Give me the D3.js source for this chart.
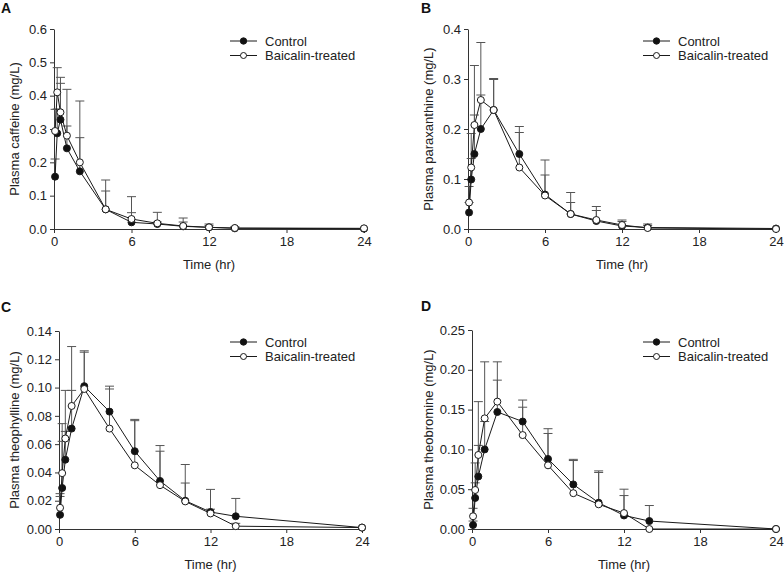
<!DOCTYPE html>
<html><head><meta charset="utf-8">
<script src="https://cdn.jsdelivr.net/npm/d3@7"></script>
<style>
html,body{margin:0;padding:0;background:#fff;}
svg text{font-family:"Liberation Sans",Arial,Helvetica,sans-serif;}
</style></head>
<body><svg id="chart" width="784" height="573"></svg>
<script>
// ---- data ----
const times = [0.083, 0.25, 0.5, 1, 2, 4, 6, 8, 10, 12, 14, 24];
const xTicks = [0, 6, 12, 18, 24];
const seriesNames = ["Control", "Baicalin-treated"];

const caffeineControl   = [0.157, 0.287, 0.328, 0.242, 0.173, 0.059, 0.020, 0.015, 0.008, 0.005, 0.002, 0.001];
const caffeineControlSD = [0.053, 0.073, 0.109, 0.067, 0.101, 0.055, 0.029, 0.006, 0.013, 0.005, 0.004, 0.000];
const caffeineBaicalin  = [0.294, 0.410, 0.350, 0.280, 0.200, 0.059, 0.030, 0.017, 0.009, 0.005, 0.003, 0.002];
const caffeineBaicalinSD= [0.065, 0.074, 0.105, 0.139, 0.184, 0.088, 0.067, 0.033, 0.024, 0.010, 0.003, 0.000];

const paraxControl   = [0.033, 0.099, 0.150, 0.200, 0.238, 0.150, 0.069, 0.030, 0.016, 0.006, 0.003, 0.001];
const paraxControlSD = [0.020, 0.042, 0.078, 0.068, 0.063, 0.055, 0.039, 0.023, 0.021, 0.009, 0.004, 0.000];
const paraxBaicalin  = [0.053, 0.123, 0.208, 0.258, 0.238, 0.123, 0.067, 0.030, 0.018, 0.008, 0.002, 0.000];
const paraxBaicalinSD= [0.032, 0.068, 0.119, 0.115, 0.061, 0.070, 0.071, 0.043, 0.027, 0.010, 0.008, 0.000];

const theophControl   = [0.010, 0.029, 0.049, 0.071, 0.101, 0.083, 0.055, 0.034, 0.020, 0.012, 0.009, 0.001];
const theophControlSD = [0.015, 0.033, 0.020, 0.027, 0.025, 0.018, 0.0225, 0.025, 0.0256, 0.016, 0.0126, 0.000];
const theophBaicalin  = [0.015, 0.0395, 0.064, 0.087, 0.099, 0.071, 0.045, 0.031, 0.0195, 0.011, 0.002, 0.001];
const theophBaicalinSD= [0.008, 0.035, 0.034, 0.042, 0.026, 0.028, 0.0316, 0.024, 0.013, 0.003, 0.002, 0.000];

const theobrControl   = [0.005, 0.039, 0.066, 0.100, 0.147, 0.135, 0.088, 0.056, 0.033, 0.017, 0.010, 0.000];
const theobrControlSD = [0.005, 0.019, 0.039, 0.035, 0.040, 0.027, 0.038, 0.0315, 0.040, 0.033, 0.0195, 0.000];
const theobrBaicalin  = [0.016, 0.049, 0.093, 0.139, 0.160, 0.118, 0.080, 0.045, 0.031, 0.020, 0.000, 0.000];
const theobrBaicalinSD= [0.010, 0.034, 0.067, 0.071, 0.050, 0.035, 0.040, 0.041, 0.040, 0.022, 0.000, 0.000];

const yTicksA = [0, 0.1, 0.2, 0.3, 0.4, 0.5, 0.6];
const yTicksB = [0, 0.1, 0.2, 0.3, 0.4];
const yTicksC = [0, 0.02, 0.04, 0.06, 0.08, 0.10, 0.12, 0.14];
const yTicksD = [0, 0.05, 0.10, 0.15, 0.20, 0.25];

// ---- layout ----
const panels = [
  {letter:"A", label:"Plasma caffeine (mg/L)", ctrl:caffeineControl, ctrlSD:caffeineControlSD, bai:caffeineBaicalin, baiSD:caffeineBaicalinSD,
   yTicks:yTicksA, fmt:".1f", left:54, right:364, top:29, bottom:229, letterX:1, letterY:13, ylabX:14, legX:230, legY:41},
  {letter:"B", label:"Plasma paraxanthine (mg/L)", ctrl:paraxControl, ctrlSD:paraxControlSD, bai:paraxBaicalin, baiSD:paraxBaicalinSD,
   yTicks:yTicksB, fmt:".1f", left:468, right:776, top:29, bottom:229, letterX:421, letterY:13, ylabX:428, legX:643, legY:41},
  {letter:"C", label:"Plasma theophylline (mg/L)", ctrl:theophControl, ctrlSD:theophControlSD, bai:theophBaicalin, baiSD:theophBaicalinSD,
   yTicks:yTicksC, fmt:".2f", left:59, right:362, top:331, bottom:529, letterX:1, letterY:312, ylabX:14, legX:230, legY:342},
  {letter:"D", label:"Plasma theobromine (mg/L)", ctrl:theobrControl, ctrlSD:theobrControlSD, bai:theobrBaicalin, baiSD:theobrBaicalinSD,
   yTicks:yTicksD, fmt:".2f", left:472, right:776, top:330, bottom:529, letterX:421, letterY:311, ylabX:428, legX:643, legY:342}
];

const svg = d3.select("#chart");
const lineCol = "#1a1a1a", errCol = "#555", txtCol = "#222";

panels.forEach(p => {
  const g = svg.append("g");
  const x = d3.scaleLinear().domain([0, 24]).range([p.left, p.right]);
  const ymax = p.yTicks[p.yTicks.length - 1];
  const y = d3.scaleLinear().domain([0, ymax]).range([p.bottom, p.top]);

  // axes
  const xa = g.append("g").attr("transform", `translate(0,${p.bottom})`)
    .call(d3.axisBottom(x).tickValues(xTicks).tickSize(4).tickSizeOuter(0).tickPadding(4));
  const ya = g.append("g").attr("transform", `translate(${p.left},0)`)
    .call(d3.axisLeft(y).tickValues(p.yTicks).tickFormat(d3.format(p.fmt)).tickSize(4).tickSizeOuter(0).tickPadding(3));
  [xa, ya].forEach(a => {
    a.selectAll("path,line").attr("stroke", "#333").attr("stroke-width", 1);
    a.selectAll("text").attr("font-size", 13).attr("fill", txtCol)
      .attr("font-family", '"Liberation Sans",Arial,sans-serif');
  });

  // axis titles
  g.append("text").attr("x", (p.left + p.right) / 2).attr("y", p.bottom + 40)
    .attr("text-anchor", "middle").attr("font-size", 13).attr("fill", txtCol).text("Time (hr)");
  g.append("text").attr("transform", `translate(${p.ylabX},${(p.top + p.bottom) / 2}) rotate(-90)`)
    .attr("text-anchor", "middle").attr("dominant-baseline", "central")
    .attr("font-size", 13).attr("fill", txtCol).text(p.label);
  g.append("text").attr("x", p.letterX).attr("y", p.letterY).attr("font-size", 14)
    .attr("font-weight", "bold").attr("fill", "#111").text(p.letter);

  const series = [
    {vals:p.ctrl, sd:p.ctrlSD, fill:"#111"},
    {vals:p.bai, sd:p.baiSD, fill:"#fff"}
  ];
  // error bars (upper only)
  series.forEach(s => {
    const eg = g.append("g").attr("stroke", errCol).attr("stroke-width", 1);
    times.forEach((t, i) => {
      if (s.sd[i] <= 0) return;
      const cx = x(t), y0 = y(s.vals[i]), y1 = y(s.vals[i] + s.sd[i]);
      eg.append("line").attr("x1", cx).attr("x2", cx).attr("y1", y0).attr("y2", y1);
      eg.append("line").attr("x1", cx - 4.5).attr("x2", cx + 4.5).attr("y1", y1).attr("y2", y1);
    });
  });
  // lines and markers
  const line = d3.line().x((d, i) => x(times[i])).y(d => y(d));
  series.forEach(s => {
    g.append("path").datum(s.vals).attr("d", line).attr("fill", "none")
      .attr("stroke", lineCol).attr("stroke-width", 1);
    g.append("g").selectAll("circle").data(s.vals).join("circle")
      .attr("cx", (d, i) => x(times[i])).attr("cy", d => y(d)).attr("r", 3.5)
      .attr("fill", s.fill).attr("stroke", lineCol).attr("stroke-width", 1);
  });

  // legend
  seriesNames.forEach((name, k) => {
    const ly = p.legY + k * 14.5;
    g.append("line").attr("x1", p.legX).attr("x2", p.legX + 27).attr("y1", ly).attr("y2", ly)
      .attr("stroke", lineCol).attr("stroke-width", 1);
    g.append("circle").attr("cx", p.legX + 13.5).attr("cy", ly).attr("r", k === 0 ? 3.2 : 3)
      .attr("fill", series[k].fill).attr("stroke", lineCol).attr("stroke-width", 1);
    g.append("text").attr("x", p.legX + 35).attr("y", ly).attr("dominant-baseline", "central")
      .attr("font-size", 13).attr("fill", txtCol).text(name);
  });
});
</script></body></html>
